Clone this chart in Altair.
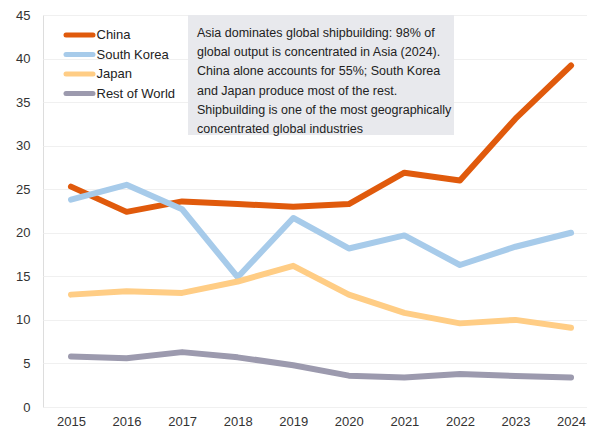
import altair as alt
import pandas as pd

years = [2015, 2016, 2017, 2018, 2019, 2020, 2021, 2022, 2023, 2024]
series_names = ["China", "South Korea", "Japan", "Rest of World"]
china = [25.3, 22.4, 23.6, 23.3, 23.0, 23.3, 26.9, 26.0, 33.1, 39.2]
south_korea = [23.8, 25.5, 22.7, 14.9, 21.7, 18.2, 19.7, 16.3, 18.4, 20.0]
japan = [12.9, 13.3, 13.1, 14.4, 16.2, 12.9, 10.8, 9.6, 10.0, 9.1]
rest_of_world = [5.8, 5.6, 6.3, 5.7, 4.8, 3.6, 3.4, 3.8, 3.55, 3.4]
colors = ["#E05A0C", "#A7CBEA", "#FFCD85", "#9C9AAE"]
y_ticks = [0, 5, 10, 15, 20, 25, 30, 35, 40, 45]
note = [
    "Asia dominates global shipbuilding: 98% of",
    "global output is concentrated in Asia (2024).",
    "China alone accounts for 55%; South Korea",
    "and Japan produce most of the rest.",
    "Shipbuilding is one of the most geographically",
    "concentrated global industries",
]

rows = []
for name, vals in zip(series_names, [china, south_korea, japan, rest_of_world]):
    for yr, v in zip(years, vals):
        rows.append({"year": yr, "series": name, "value": v})
df = pd.DataFrame(rows)
legend_df = pd.DataFrame({"series": series_names})

FONT = "Liberation Sans"
color_scale = alt.Scale(domain=series_names, range=colors)

x = alt.X("year:Q", scale=alt.Scale(domain=[2014.496, 2024.287], nice=False, zero=False),
          axis=alt.Axis(values=years, format="d", title=None, grid=False, domain=False,
                        ticks=False, labelPadding=8, labelFontSize=13, labelColor="#333333",
                        labelFont=FONT))
y = alt.Y("value:Q", scale=alt.Scale(domain=[0, 45], nice=False),
          axis=alt.Axis(values=y_ticks, title=None, domain=False, ticks=False,
                        gridColor="#F0F0F0", gridWidth=1, labelPadding=13,
                        labelFontSize=13, labelColor="#333333", labelFont=FONT))

lines = alt.Chart(df).mark_line(strokeWidth=6, strokeCap="round", strokeJoin="round").encode(
    x=x,
    y=y,
    color=alt.Color("series:N", scale=color_scale, legend=None),
    order=alt.Order("series:N"),
)

box = alt.Chart(pd.DataFrame({"k": [0]})).mark_rect(color="#E8E9ED").encode(
    x=alt.value(145), x2=alt.value(411), y=alt.value(0), y2=alt.value(120)
)

text = alt.Chart(pd.DataFrame({"t": [note]})).mark_text(
    align="left", baseline="alphabetic", fontSize=12.5, font=FONT, color="#222222", lineHeight=19.2
).encode(x=alt.value(154), y=alt.value(22), text="t")

leg_y = alt.Y("series:N", sort=series_names, axis=None,
              scale=alt.Scale(type="point", domain=series_names, range=[20, 78.5], padding=0))
leg_sym = alt.Chart(legend_df).mark_rule(strokeWidth=5, strokeCap="round").encode(
    x=alt.value(23), x2=alt.value(50), y=leg_y,
    color=alt.Color("series:N", scale=color_scale, legend=None),
)
leg_txt = alt.Chart(legend_df).mark_text(
    align="left", baseline="middle", fontSize=13, font=FONT, color="#222222"
).encode(x=alt.value(53.5), y=leg_y, text="series:N")

legend_layer = alt.layer(leg_sym, leg_txt)

chart = alt.layer(box, text, lines, legend_layer).resolve_scale(y="independent").properties(
    width=544, height=392,
    autosize=alt.AutoSizeParams(type="none"),
    padding={"left": 35, "top": 7, "right": 0, "bottom": 21},
).configure_view(stroke=None).configure(background="white")

chart.save("out.html", embed_options={"renderer": "svg", "actions": False})
